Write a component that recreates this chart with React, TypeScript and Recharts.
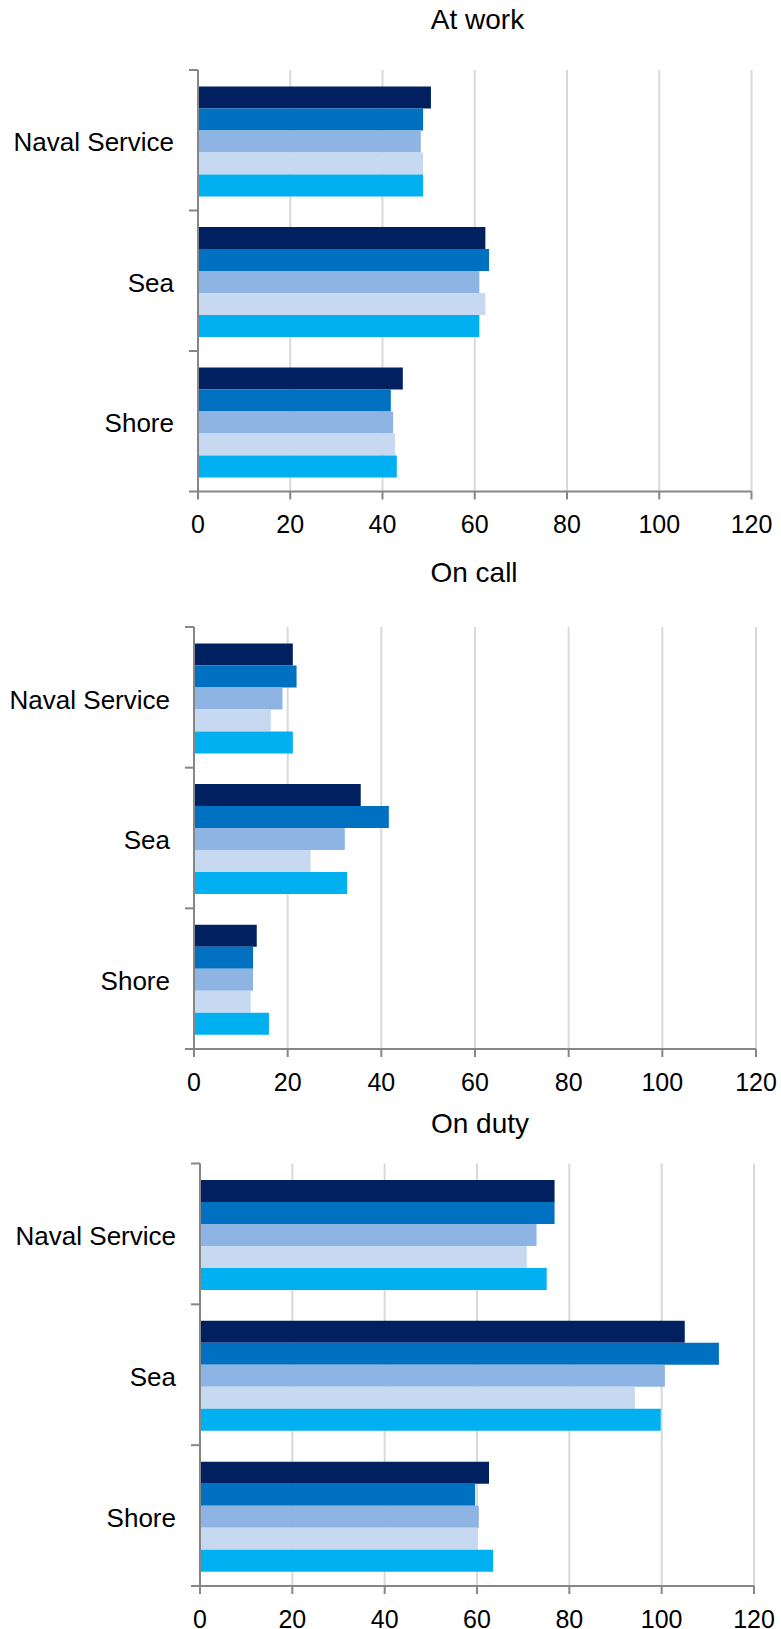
import { BarChart, Bar, XAxis, YAxis, CartesianGrid } from "recharts";

const categories = ["Naval Service", "Sea", "Shore"];
const seriesKeys = ["s1", "s2", "s3", "s4", "s5"];
const seriesColors = ["#002060", "#0070C0", "#8EB4E3", "#C6D9F1", "#00B0F0"];
const xTicks = [0, 20, 40, 60, 80, 100, 120];

// values per series, ordered like categories
const atWork = [
  [50.5, 62.3, 44.4],
  [48.8, 63.1, 41.8],
  [48.3, 61.0, 42.3],
  [48.8, 62.3, 42.7],
  [48.8, 61.0, 43.1],
];
const onCall = [
  [21.1, 35.6, 13.4],
  [21.9, 41.6, 12.6],
  [18.9, 32.2, 12.6],
  [16.4, 24.9, 12.1],
  [21.1, 32.7, 16.0],
];
const onDuty = [
  [76.8, 105.0, 62.6],
  [76.8, 112.4, 59.6],
  [72.9, 100.7, 60.4],
  [70.8, 94.2, 60.0],
  [75.1, 99.8, 63.5],
];

const FONT = '"Liberation Sans", Arial, sans-serif';
const AXIS = "#868686";

const toRows = (series: number[][]) =>
  categories.map((name, i) => {
    const row: Record<string, string | number> = { name };
    seriesKeys.forEach((k, s) => (row[k] = series[s][i]));
    return row;
  });

type PanelProps = {
  series: number[][];
  top: number;
  height: number;
  plotTop: number;
  axisY: number;
  x0: number;
  x120: number;
};

const Panel = ({ series, top, height, plotTop, axisY, x0, x120 }: PanelProps) => {
  const band = (axisY - plotTop) / 3;
  const CatTick = (props: any) => {
    const { x, y, payload, index } = props;
    const ax = x + 24;
    return (
      <g>
        <text x={x} y={y} dy="0.43em" textAnchor="end" fontSize={26} fill="#000" fontFamily={FONT}>
          {payload.value}
        </text>
        <line x1={ax - 9} x2={ax} y1={y - band / 2} y2={y - band / 2} stroke={AXIS} strokeWidth={2} />
        {index === categories.length - 1 && (
          <line x1={ax - 9} x2={ax} y1={y + band / 2} y2={y + band / 2} stroke={AXIS} strokeWidth={2} />
        )}
      </g>
    );
  };
  return (
    <div style={{ position: "absolute", left: 0, top }}>
      <BarChart
        width={781}
        height={height}
        data={toRows(series)}
        layout="vertical"
        margin={{ top: plotTop - top, right: 781 - x120, left: 0, bottom: 0 }}
        barCategoryGap="11.7%"
        barGap={0}
      >
        <CartesianGrid horizontal={false} stroke="#D9D9D9" strokeWidth={2} />
        <XAxis
          type="number"
          domain={[0, 120]}
          ticks={xTicks}
          height={top + height - axisY}
          axisLine={{ stroke: AXIS, strokeWidth: 2 }}
          tickLine={{ stroke: AXIS, strokeWidth: 2 }}
          tickSize={8}
          tickMargin={16}
          tick={{ fill: "#000", fontSize: 25, fontFamily: FONT }}
        />
        <YAxis
          type="category"
          dataKey="name"
          width={x0}
          axisLine={{ stroke: AXIS, strokeWidth: 2 }}
          tickLine={false}
          tickSize={0}
          tickMargin={24}
          tick={<CatTick />}
        />
        {seriesKeys.map((k, i) => (
          <Bar key={k} dataKey={k} fill={seriesColors[i]} isAnimationActive={false} />
        ))}
      </BarChart>
    </div>
  );
};

export default function App() {
  return (
    <div style={{ position: "absolute", left: 0, top: 0, width: 781, height: 1629, background: "#fff" }}>
      <Panel series={atWork} top={0} height={545} plotTop={70} axisY={491.5} x0={198} x120={751.5} />
      <Panel series={onCall} top={560} height={545} plotTop={627} axisY={1049} x0={194} x120={756} />
      <Panel series={onDuty} top={1110} height={519} plotTop={1163.5} axisY={1586} x0={200} x120={754} />
      <svg width={781} height={1629} style={{ position: "absolute", left: 0, top: 0, pointerEvents: "none" }}>
        <text x={477.5} y={29.3} textAnchor="middle" fontSize={28} fontFamily={FONT} fill="#000">At work</text>
        <text x={474} y={582} textAnchor="middle" fontSize={28} fontFamily={FONT} fill="#000">On call</text>
        <text x={480} y={1133} textAnchor="middle" fontSize={28} fontFamily={FONT} fill="#000">On duty</text>
      </svg>
    </div>
  );
}
